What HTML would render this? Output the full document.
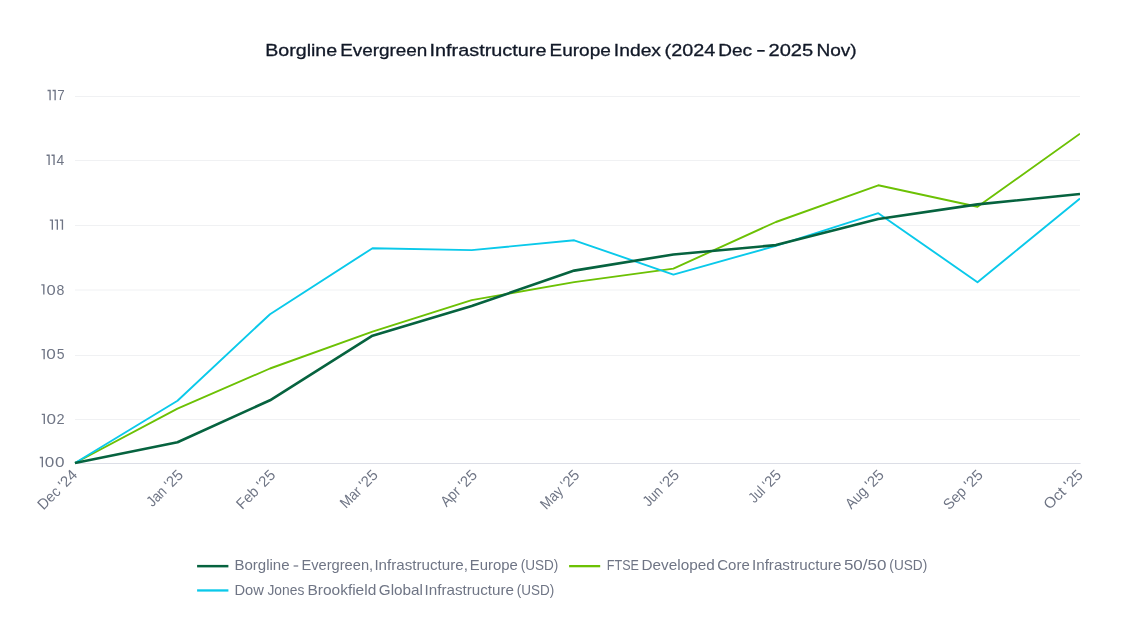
<!DOCTYPE html>
<html><head><meta charset="utf-8"><title>Borgline Evergreen Infrastructure Europe Index</title>
<style>
html,body{margin:0;padding:0;background:#fff;}
body{width:1132px;height:640px;overflow:hidden;font-family:"Liberation Sans",sans-serif;}
svg{display:block;will-change:transform;opacity:0.999;}
text{font-family:"Liberation Sans",sans-serif;font-kerning:none;}
.t{fill:#111827;stroke:#111827;stroke-width:0.3px;}
.g{fill:#6f7585;}
</style></head><body>
<svg width="1132" height="640" viewBox="0 0 1132 640">

<g class="t">
<text x="265.19" y="55.90" font-size="17.2" textLength="71.98" lengthAdjust="spacingAndGlyphs">Borgline</text>
<text x="340.15" y="55.90" font-size="17.2" textLength="87.18" lengthAdjust="spacingAndGlyphs">Evergreen</text>
<text x="429.57" y="55.90" font-size="17.2" textLength="116.91" lengthAdjust="spacingAndGlyphs">Infrastructure</text>
<text x="549.44" y="55.90" font-size="17.2" textLength="61.41" lengthAdjust="spacingAndGlyphs">Europe</text>
<text x="613.82" y="55.90" font-size="17.2" textLength="47.19" lengthAdjust="spacingAndGlyphs">Index</text>
<text x="664.57" y="55.90" font-size="17.2" textLength="50.61" lengthAdjust="spacingAndGlyphs">(2024</text>
<text x="718.24" y="55.90" font-size="17.2" textLength="33.86" lengthAdjust="spacingAndGlyphs">Dec</text>
<text x="768.49" y="55.90" font-size="17.2" textLength="44.76" lengthAdjust="spacingAndGlyphs">2025</text>
<text x="816.44" y="55.90" font-size="17.2" textLength="40.25" lengthAdjust="spacingAndGlyphs">Nov)</text>
</g>
<rect x="757.2" y="50.0" width="7.5" height="1.7" fill="#111827"/>
<line x1="75.0" x2="1080.0" y1="96.5" y2="96.5" stroke="#f0f1f3" stroke-width="1"/>
<line x1="75.0" x2="1080.0" y1="160.5" y2="160.5" stroke="#f0f1f3" stroke-width="1"/>
<line x1="75.0" x2="1080.0" y1="225.5" y2="225.5" stroke="#f0f1f3" stroke-width="1"/>
<line x1="75.0" x2="1080.0" y1="290.0" y2="290.0" stroke="#f0f1f3" stroke-width="1"/>
<line x1="75.0" x2="1080.0" y1="355.5" y2="355.5" stroke="#f0f1f3" stroke-width="1"/>
<line x1="75.0" x2="1080.0" y1="419.5" y2="419.5" stroke="#f0f1f3" stroke-width="1"/>
<line x1="75.0" x2="1080.6" y1="463.5" y2="463.5" stroke="#dcdee6" stroke-width="1.1"/>
<g class="g">
<path d="M47.55,89.85 H50.75 V100.15 H49.40 V91.20 H47.55 Z" fill="#6f7585"/>
<path d="M52.60,89.85 H55.80 V100.15 H54.45 V91.20 H52.60 Z" fill="#6f7585"/>
<text x="57.21" y="100.40" font-size="15.3" textLength="7.46" lengthAdjust="spacingAndGlyphs">7</text>
<path d="M46.55,154.61 H49.75 V164.91 H48.40 V155.96 H46.55 Z" fill="#6f7585"/>
<path d="M51.50,154.61 H54.70 V164.91 H53.35 V155.96 H51.50 Z" fill="#6f7585"/>
<text x="56.58" y="165.16" font-size="15.3" textLength="7.73" lengthAdjust="spacingAndGlyphs">4</text>
<path d="M49.80,219.38 H53.00 V229.68 H51.65 V220.73 H49.80 Z" fill="#6f7585"/>
<path d="M54.80,219.38 H58.00 V229.68 H56.65 V220.73 H54.80 Z" fill="#6f7585"/>
<path d="M59.90,219.38 H63.10 V229.68 H61.75 V220.73 H59.90 Z" fill="#6f7585"/>
<path d="M41.30,284.14 H44.50 V294.44 H43.15 V285.49 H41.30 Z" fill="#6f7585"/>
<text x="46.40" y="294.69" font-size="15.3" textLength="9.19" lengthAdjust="spacingAndGlyphs">0</text>
<text x="56.58" y="294.69" font-size="15.3" textLength="7.88" lengthAdjust="spacingAndGlyphs">8</text>
<path d="M41.60,348.91 H44.80 V359.21 H43.45 V350.26 H41.60 Z" fill="#6f7585"/>
<text x="46.38" y="359.46" font-size="15.3" textLength="9.54" lengthAdjust="spacingAndGlyphs">0</text>
<text x="56.64" y="359.46" font-size="15.3" textLength="7.80" lengthAdjust="spacingAndGlyphs">5</text>
<path d="M41.75,413.67 H44.95 V423.97 H43.60 V415.02 H41.75 Z" fill="#6f7585"/>
<text x="46.48" y="424.22" font-size="15.3" textLength="9.54" lengthAdjust="spacingAndGlyphs">0</text>
<text x="56.47" y="424.22" font-size="15.3" textLength="8.12" lengthAdjust="spacingAndGlyphs">2</text>
<path d="M39.80,456.85 H43.00 V467.15 H41.65 V458.20 H39.80 Z" fill="#6f7585"/>
<text x="44.68" y="467.40" font-size="15.3" textLength="9.54" lengthAdjust="spacingAndGlyphs">0</text>
<text x="54.98" y="467.40" font-size="15.3" textLength="9.54" lengthAdjust="spacingAndGlyphs">0</text>
</g>
<clipPath id="c"><rect x="73.0" y="80" width="1007.0" height="390"/></clipPath>
<g clip-path="url(#c)" fill="none" stroke-linejoin="round" stroke-linecap="butt">
<polyline points="75.0,463.0 177.5,408.7 270.0,368.5 372.5,331.7 471.7,300.1 574.2,282.1 673.4,268.6 775.9,222.0 878.3,185.3 977.5,206.8 1080.0,133.7" stroke="#6cc104" stroke-width="1.9"/>
<polyline points="75.0,463.0 177.5,400.7 270.0,314.2 372.5,248.2 471.7,250.1 574.2,240.3 673.4,274.6 775.9,245.8 878.3,213.2 977.5,282.2 1080.0,198.5" stroke="#0ac9ea" stroke-width="1.9"/>
<polyline points="75.0,463.0 177.5,442.2 270.0,400.3 372.5,335.7 471.7,306.0 574.2,270.6 673.4,254.5 775.9,245.1 878.3,219.0 977.5,204.4 1080.0,194.0" stroke="#06633f" stroke-width="2.6"/>
</g>
<g class="g">
<g transform="translate(66.86,487.20) rotate(-45)"><text x="-32.96" y="0.00" font-size="15.0" textLength="31.88" lengthAdjust="spacingAndGlyphs">Dec '</text><text x="-0.76" y="0.00" font-size="15.0" textLength="16.91" lengthAdjust="spacingAndGlyphs">24</text></g>
<g transform="translate(172.80,487.20) rotate(-45)"><text x="-28.81" y="0.00" font-size="15.0" textLength="27.68" lengthAdjust="spacingAndGlyphs">Jan '</text><text x="-0.75" y="0.00" font-size="15.0" textLength="16.58" lengthAdjust="spacingAndGlyphs">25</text></g>
<g transform="translate(265.10,487.20) rotate(-45)"><text x="-32.16" y="0.00" font-size="15.0" textLength="31.08" lengthAdjust="spacingAndGlyphs">Feb '</text><text x="-0.75" y="0.00" font-size="15.0" textLength="16.58" lengthAdjust="spacingAndGlyphs">25</text></g>
<g transform="translate(367.60,487.20) rotate(-45)"><text x="-30.71" y="0.00" font-size="15.0" textLength="29.59" lengthAdjust="spacingAndGlyphs">Mar '</text><text x="-0.75" y="0.00" font-size="15.0" textLength="16.58" lengthAdjust="spacingAndGlyphs">25</text></g>
<g transform="translate(466.80,487.20) rotate(-45)"><text x="-28.88" y="0.00" font-size="15.0" textLength="27.77" lengthAdjust="spacingAndGlyphs">Apr '</text><text x="-0.75" y="0.00" font-size="15.0" textLength="16.58" lengthAdjust="spacingAndGlyphs">25</text></g>
<g transform="translate(569.20,487.15) rotate(-45)"><text x="-32.59" y="0.00" font-size="15.0" textLength="31.47" lengthAdjust="spacingAndGlyphs">May '</text><text x="-0.75" y="0.00" font-size="15.0" textLength="16.58" lengthAdjust="spacingAndGlyphs">25</text></g>
<g transform="translate(668.80,487.20) rotate(-45)"><text x="-28.51" y="0.00" font-size="15.0" textLength="27.37" lengthAdjust="spacingAndGlyphs">Jun '</text><text x="-0.75" y="0.00" font-size="15.0" textLength="16.58" lengthAdjust="spacingAndGlyphs">25</text></g>
<g transform="translate(771.00,487.20) rotate(-45)"><text x="-23.40" y="0.00" font-size="15.0" textLength="22.24" lengthAdjust="spacingAndGlyphs">Jul '</text><text x="-0.75" y="0.00" font-size="15.0" textLength="16.58" lengthAdjust="spacingAndGlyphs">25</text></g>
<g transform="translate(873.75,487.15) rotate(-45)"><text x="-31.83" y="0.00" font-size="15.0" textLength="30.71" lengthAdjust="spacingAndGlyphs">Aug '</text><text x="-0.75" y="0.00" font-size="15.0" textLength="16.58" lengthAdjust="spacingAndGlyphs">25</text></g>
<g transform="translate(972.70,487.15) rotate(-45)"><text x="-33.15" y="0.00" font-size="15.0" textLength="32.07" lengthAdjust="spacingAndGlyphs">Sep '</text><text x="-0.75" y="0.00" font-size="15.0" textLength="16.58" lengthAdjust="spacingAndGlyphs">25</text></g>
<g transform="translate(1072.70,487.20) rotate(-45)"><text x="-32.74" y="0.00" font-size="15.0" textLength="31.73" lengthAdjust="spacingAndGlyphs">Oct '</text><text x="-0.75" y="0.00" font-size="15.0" textLength="16.58" lengthAdjust="spacingAndGlyphs">25</text></g>
</g>
<line x1="197.1" x2="228.4" y1="566.15" y2="566.15" stroke="#06633f" stroke-width="2.5"/>
<line x1="569.1" x2="600.2" y1="566.15" y2="566.15" stroke="#6cc104" stroke-width="2.3"/>
<line x1="197.1" x2="228.4" y1="590.45" y2="590.45" stroke="#0ac9ea" stroke-width="2.3"/>
<g class="g">
<text x="234.42" y="570.40" font-size="14.2" textLength="55.15" lengthAdjust="spacingAndGlyphs">Borgline</text>
<text x="301.45" y="570.40" font-size="14.2" textLength="71.67" lengthAdjust="spacingAndGlyphs">Evergreen,</text>
<text x="374.40" y="570.40" font-size="14.2" textLength="93.46" lengthAdjust="spacingAndGlyphs">Infrastructure,</text>
<text x="469.88" y="570.40" font-size="14.2" textLength="47.98" lengthAdjust="spacingAndGlyphs">Europe</text>
<text x="520.66" y="570.40" font-size="14.2" textLength="37.68" lengthAdjust="spacingAndGlyphs">(USD)</text>
<text x="606.77" y="570.40" font-size="14.2" textLength="32.17" lengthAdjust="spacingAndGlyphs">FTSE</text>
<text x="641.54" y="570.40" font-size="14.2" textLength="73.24" lengthAdjust="spacingAndGlyphs">Developed</text>
<text x="717.24" y="570.40" font-size="14.2" textLength="32.53" lengthAdjust="spacingAndGlyphs">Core</text>
<text x="752.00" y="570.40" font-size="14.2" textLength="89.37" lengthAdjust="spacingAndGlyphs">Infrastructure</text>
<text x="843.92" y="570.40" font-size="14.2" textLength="42.54" lengthAdjust="spacingAndGlyphs">50/50</text>
<text x="889.35" y="570.40" font-size="14.2" textLength="37.89" lengthAdjust="spacingAndGlyphs">(USD)</text>
<text x="234.44" y="595.10" font-size="14.2" textLength="29.42" lengthAdjust="spacingAndGlyphs">Dow</text>
<text x="267.48" y="595.10" font-size="14.2" textLength="36.81" lengthAdjust="spacingAndGlyphs">Jones</text>
<text x="307.43" y="595.10" font-size="14.2" textLength="68.87" lengthAdjust="spacingAndGlyphs">Brookfield</text>
<text x="378.83" y="595.10" font-size="14.2" textLength="44.19" lengthAdjust="spacingAndGlyphs">Global</text>
<text x="424.50" y="595.10" font-size="14.2" textLength="89.58" lengthAdjust="spacingAndGlyphs">Infrastructure</text>
<text x="516.66" y="595.10" font-size="14.2" textLength="37.47" lengthAdjust="spacingAndGlyphs">(USD)</text>
<rect x="293.6" y="565.4" width="4.6" height="1.2"/>
</g>
</svg></body></html>
